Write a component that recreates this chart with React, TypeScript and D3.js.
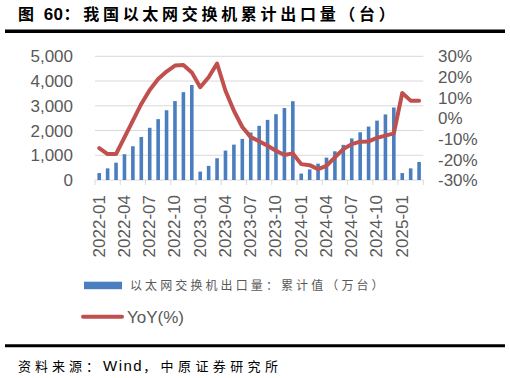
import React from "react";
import * as d3 from "d3";

const months = [
  "2022-01","2022-02","2022-03","2022-04","2022-05","2022-06","2022-07","2022-08","2022-09","2022-10","2022-11","2022-12",
  "2023-01","2023-02","2023-03","2023-04","2023-05","2023-06","2023-07","2023-08","2023-09","2023-10","2023-11","2023-12",
  "2024-01","2024-02","2024-03","2024-04","2024-05","2024-06","2024-07","2024-08","2024-09","2024-10","2024-11","2024-12",
  "2025-01","2025-02","2025-03",
];

const cumulative = [
  280, 470, 700, 1040, 1365, 1740, 2110, 2460, 2820, 3190, 3550, 3840,
  340, 570, 880, 1190, 1430, 1660, 1920, 2190, 2430, 2660, 2910, 3185,
  260, 430, 660, 905, 1160, 1420, 1680, 1930, 2160, 2400, 2650, 2930,
  280, 470, 730,
];

const yoy = [
  -14.5, -17.4, -17.4, -9.3, -1.2, 6.9, 13.7, 19.0, 22.6, 25.5, 25.8, 22.2,
  15.0, 19.8, 26.5, 13.3, 3.6, -4.3, -9.2, -11.2, -13.4, -15.8, -17.9, -17.1,
  -22.3, -22.8, -24.7, -23.1, -19.0, -15.0, -12.6, -11.4, -11.3, -9.6, -8.5, -7.4,
  12.2, 8.5, 8.5,
];

const leftTicks = [0, 1000, 2000, 3000, 4000, 5000];
const rightTicks = [-30, -20, -10, 0, 10, 20, 30];

const titlePrefix = "图 ";
const titleNum = "60";
const titleRest = "：我国以太网交换机累计出口量（台）";
const barLabel = "以太网交换机出口量：累计值（万台）";
const lineLabel = "YoY(%)";
const sourceHead = "资料来源：";
const sourceWind = "Wind";
const sourceTail = "，中原证券研究所";

export default function App() {
  const left = 95, right = 423.3, top = 56.3, bottom = 180;
  const x = d3.scaleBand<string>().domain(months).range([left, right]).padding(0);
  const yL = d3.scaleLinear().domain([0, 5000]).range([bottom, top]);
  const yR = d3.scaleLinear().domain([-30, 30]).range([bottom, top]);
  const bw = x.bandwidth();
  const cx = (m: string) => (x(m) as number) + bw / 2;
  const barW = 3.6;
  const line = d3
    .line<number>()
    .x((_, i) => cx(months[i]))
    .y((d) => yR(d))
    .curve(d3.curveLinear);
  const fmt = d3.format(",");
  const grey = "#595959";
  const cjk = "'Noto Sans CJK SC', sans-serif";
  const latin = "'Liberation Sans', Arial, sans-serif";
  const tickIdx = months.map((_, i) => i).filter((i) => i % 3 === 0);

  return (
    <div style={{ position: "absolute", left: 0, top: 0 }}>
      <svg width={510} height={378} style={{ display: "block", background: "#fff" }}>
        <text x={18} y={19.5} fontFamily={cjk} fontWeight="bold" fontSize={16} fill="#000">
          <tspan letterSpacing={3}>{titlePrefix}</tspan>
          <tspan fontFamily={latin} fontSize={17} letterSpacing={0.5}>{titleNum}</tspan>
          <tspan letterSpacing={3.7}>{titleRest}</tspan>
        </text>
        <line x1={5} x2={505} y1={31.3} y2={31.3} stroke="#000" strokeWidth={3.5} />

        {leftTicks.map((t) => (
          <line key={"g" + t} x1={left} x2={right} y1={yL(t)} y2={yL(t)} stroke="#D9D9D9" strokeWidth={1} />
        ))}
        {tickIdx.map((i) => (
          <line key={"t" + i} x1={x(months[i]) as number} x2={x(months[i]) as number} y1={bottom} y2={bottom + 5} stroke="#D9D9D9" strokeWidth={1} />
        ))}
        <line x1={right} x2={right} y1={bottom} y2={bottom + 5} stroke="#D9D9D9" strokeWidth={1} />

        {months.map((m, i) => (
          <rect key={m} x={cx(m) - barW / 2} y={yL(cumulative[i])} width={barW} height={bottom - yL(cumulative[i])} fill="#4A7EBF" />
        ))}

        <path d={line(yoy) || ""} fill="none" stroke="#C0504D" strokeWidth={4} strokeLinejoin="round" strokeLinecap="round" />

        {leftTicks.map((t) => (
          <text key={"l" + t} x={73} y={yL(t)} dy="0.36em" textAnchor="end" fontFamily={latin} fontSize={17} fill={grey}>
            {fmt(t)}
          </text>
        ))}
        {rightTicks.map((t) => (
          <text key={"r" + t} x={438} y={yR(t)} dy="0.36em" textAnchor="start" fontFamily={latin} fontSize={17} fill={grey}>
            {t + "%"}
          </text>
        ))}
        {tickIdx.map((i) => (
          <text
            key={"x" + i}
            transform={`translate(${cx(months[i]) - 0.7},${bottom + 15}) rotate(-90)`}
            dy="0.36em"
            textAnchor="end"
            fontFamily={latin}
            fontSize={17}
            fill={grey}
          >
            {months[i]}
          </text>
        ))}

        <rect x={84} y={281.7} width={38} height={7.5} fill="#4A7EBF" />
        <text x={130} y={285.5} dy="0.36em" fontFamily={cjk} fontSize={12} letterSpacing={3.1} fill={grey}>
          {barLabel}
        </text>
        <line x1={83} x2={122} y1={316.7} y2={316.7} stroke="#C0504D" strokeWidth={4} strokeLinecap="round" />
        <text x={127} y={316.7} dy="0.36em" fontFamily={latin} fontSize={17} fill={grey}>
          {lineLabel}
        </text>

        <line x1={5} x2={505} y1={345.8} y2={345.8} stroke="#000" strokeWidth={3} />
        <text x={18} y={366} dy="0.36em" fontFamily={cjk} fontSize={13} fill="#000">
          <tspan letterSpacing={4}>{sourceHead}</tspan>
          <tspan fontFamily={latin} fontSize={15} letterSpacing={1.5}>{sourceWind}</tspan>
          <tspan letterSpacing={4.4}>{sourceTail}</tspan>
        </text>
      </svg>
    </div>
  );
}
